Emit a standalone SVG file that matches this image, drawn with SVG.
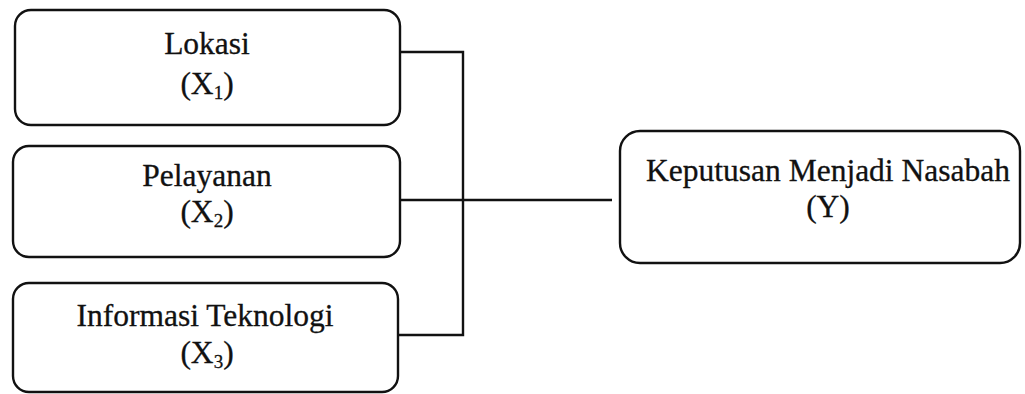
<svg xmlns="http://www.w3.org/2000/svg" width="1025" height="394" viewBox="0 0 1025 394">
<style>
.box{fill:#fff;stroke:#111;stroke-width:2.4}
.t{font-family:"Liberation Serif","Times New Roman",serif;font-size:31.5px;fill:#111;stroke:#111;stroke-width:0.3;text-anchor:middle}
.sub{font-size:19px}
.ln{fill:none;stroke:#111;stroke-width:2.4}
</style>
<rect width="1025" height="394" fill="#fff"/>
<g id="connectors">
<polyline class="ln" points="400,52 463,52 463,335 399,335"/>
<line class="ln" x1="400" y1="200" x2="612" y2="200"/>
</g>
<g id="n1">
<rect class="box" x="15" y="10" width="385" height="115" rx="16"/>
<text class="t" x="207" y="54">Lokasi</text>
<text class="t" x="207" y="94">(X<tspan class="sub" dy="5">1</tspan><tspan dy="-5">)</tspan></text>
</g>
<g id="n2">
<rect class="box" x="13" y="146" width="387" height="111" rx="16"/>
<text class="t" x="207" y="186">Pelayanan</text>
<text class="t" x="207" y="222">(X<tspan class="sub" dy="5">2</tspan><tspan dy="-5">)</tspan></text>
</g>
<g id="n3">
<rect class="box" x="13" y="283" width="385" height="109" rx="16"/>
<text class="t" x="205" y="326">Informasi Teknologi</text>
<text class="t" x="207" y="363">(X<tspan class="sub" dy="5">3</tspan><tspan dy="-5">)</tspan></text>
</g>
<g id="y">
<rect class="box" x="620" y="131" width="400" height="132" rx="20"/>
<text class="t" x="828" y="181">Keputusan Menjadi Nasabah</text>
<text class="t" x="828" y="217">(Y)</text>
</g>
</svg>
